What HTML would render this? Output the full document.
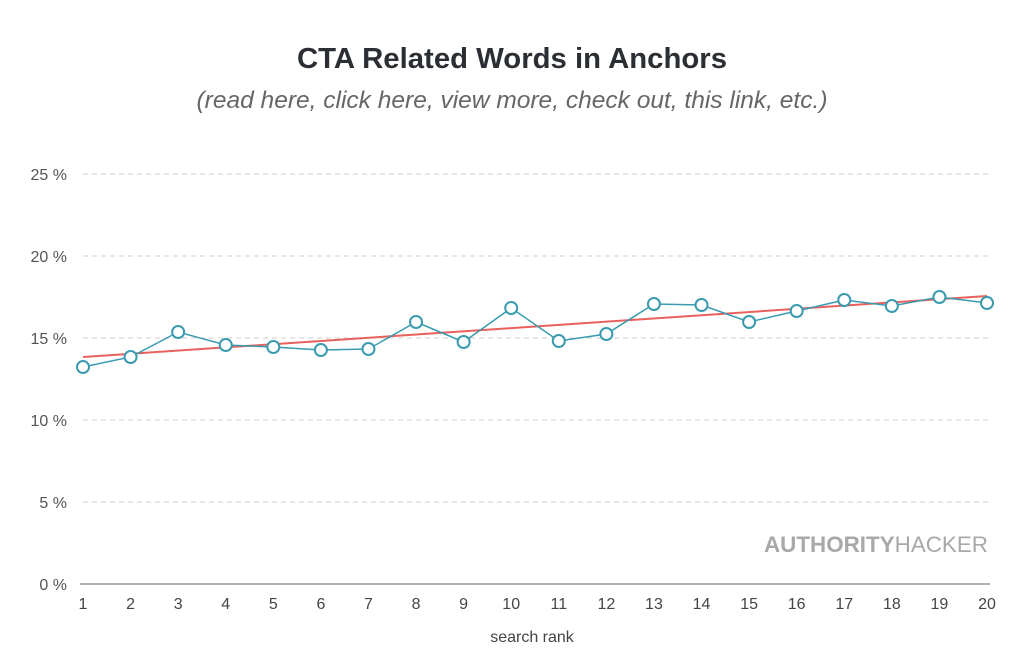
<!DOCTYPE html>
<html><head><meta charset="utf-8"><style>
html,body{margin:0;padding:0;background:#fff;}
svg{display:block;font-family:"Liberation Sans",sans-serif;}
</style></head><body>
<svg width="1024" height="663" viewBox="0 0 1024 663">
<text x="512" y="68" text-anchor="middle" font-size="29" font-weight="bold" fill="#2b2f33" textLength="430" lengthAdjust="spacingAndGlyphs">CTA Related Words in Anchors</text>
<text x="512" y="108" text-anchor="middle" font-size="24" font-style="italic" fill="#666" textLength="631" lengthAdjust="spacingAndGlyphs">(read here, click here, view more, check out, this link, etc.)</text>
<g stroke="#cfcfcf" stroke-width="1" stroke-dasharray="5,4">
<line x1="83" y1="174" x2="990" y2="174"/>
<line x1="83" y1="256" x2="990" y2="256"/>
<line x1="83" y1="338" x2="990" y2="338"/>
<line x1="83" y1="420" x2="990" y2="420"/>
<line x1="83" y1="502" x2="990" y2="502"/>
</g>
<line x1="80" y1="584" x2="990" y2="584" stroke="#999" stroke-width="1.5"/>
<g font-size="16" fill="#555" text-anchor="end">
<text x="67" y="180">25 %</text><text x="67" y="262">20 %</text><text x="67" y="344">15 %</text>
<text x="67" y="426">10 %</text><text x="67" y="508">5 %</text><text x="67" y="590">0 %</text>
</g>
<g font-size="16" fill="#444" text-anchor="middle" id="xl"></g>
<text x="532" y="642" text-anchor="middle" font-size="16" fill="#444">search rank</text>
<text x="988" y="552" text-anchor="end" font-size="22" fill="#a8a8a8" textLength="224" lengthAdjust="spacingAndGlyphs"><tspan font-weight="bold">AUTHORITY</tspan>HACKER</text>
<line x1="83" y1="357" x2="987" y2="296" stroke="#e8615c" stroke-width="2"/>
<polyline id="pl" fill="none" stroke="#3a9bb0" stroke-width="1.5"/>
<g id="pts" fill="#fff" stroke="#3a9bb0" stroke-width="2"></g>
<script>
var ys=[367,357,332,345,347,350,349,322,342,308,341,334,304,305,322,311,300,306,297,303];
var p=[],g=document.getElementById('pts'),xl=document.getElementById('xl'),ns="http://www.w3.org/2000/svg";
ys.forEach(function(y,i){var x=83+i*(904/19);p.push(x+","+y);
var c=document.createElementNS(ns,'circle');c.setAttribute('cx',x);c.setAttribute('cy',y);c.setAttribute('r',6);g.appendChild(c);
var t=document.createElementNS(ns,'text');t.setAttribute('x',x);t.setAttribute('y',609);t.textContent=i+1;xl.appendChild(t);});
document.getElementById('pl').setAttribute('points',p.join(' '));
</script>
</svg>
</body></html>
